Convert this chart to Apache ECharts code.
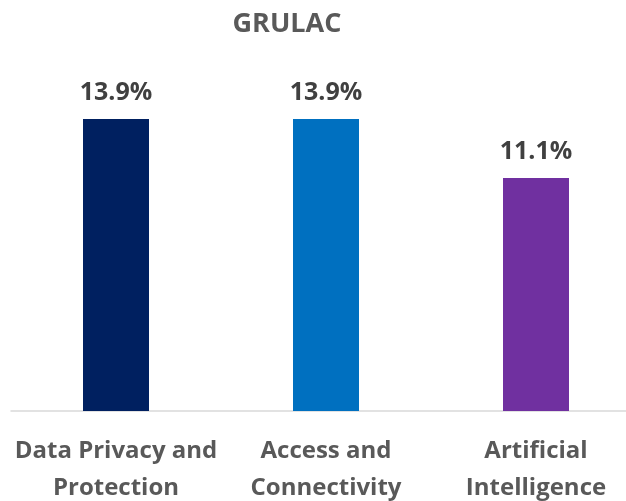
<!DOCTYPE html>
<html>
<head>
<meta charset="utf-8">
<script src="https://cdn.jsdelivr.net/npm/echarts@6/dist/echarts.min.js"></script>
<style>
  html, body { margin: 0; padding: 0; background: #ffffff; }
  #chart { width: 626px; height: 501px; }
</style>
</head>
<body>
<div id="chart"></div>
<script>
var categories = ["Data Privacy and\nProtection", "Access and\nConnectivity", "Artificial\nIntelligence"];
var values = [13.9, 13.9, 11.1];
var barColors = ["#002060", "#0070C0", "#7030A0"];

var mychart = echarts.init(document.getElementById("chart"));
var option = {
  animation: false,
  title: {
    text: "GRULAC",
    left: 282,
    top: 6,
    textAlign: "center",
    textStyle: {
      color: "#595959",
      fontFamily: "Open Sans",
      fontWeight: "bold",
      fontSize: 27
    }
  },
  grid: {
    left: 11,
    width: 630,
    top: 75,
    bottom: 90,
    outerBoundsMode: "none"
  },
  xAxis: {
    type: "category",
    data: categories,
    axisLine: { lineStyle: { color: "#d9d9d9", width: 1.5 } },
    axisTick: { show: false },
    axisLabel: {
      interval: 0,
      margin: 22,
      color: "#595959",
      fontFamily: "Open Sans",
      fontWeight: "bold",
      fontSize: 24,
      lineHeight: 37
    }
  },
  yAxis: {
    type: "value",
    min: 0,
    max: 16,
    show: false,
    splitLine: { show: false }
  },
  series: [
    {
      type: "bar",
      barWidth: 66,
      data: values.map(function (v, i) {
        return { value: v, itemStyle: { color: barColors[i] } };
      }),
      label: {
        show: true,
        position: "top",
        distance: 14,
        formatter: function (p) { return p.value.toFixed(1) + "%"; },
        color: "#404040",
        fontFamily: "Open Sans",
        fontWeight: "bold",
        fontSize: 25
      }
    }
  ]
};
mychart.setOption(option, true);
</script>
</body>
</html>
